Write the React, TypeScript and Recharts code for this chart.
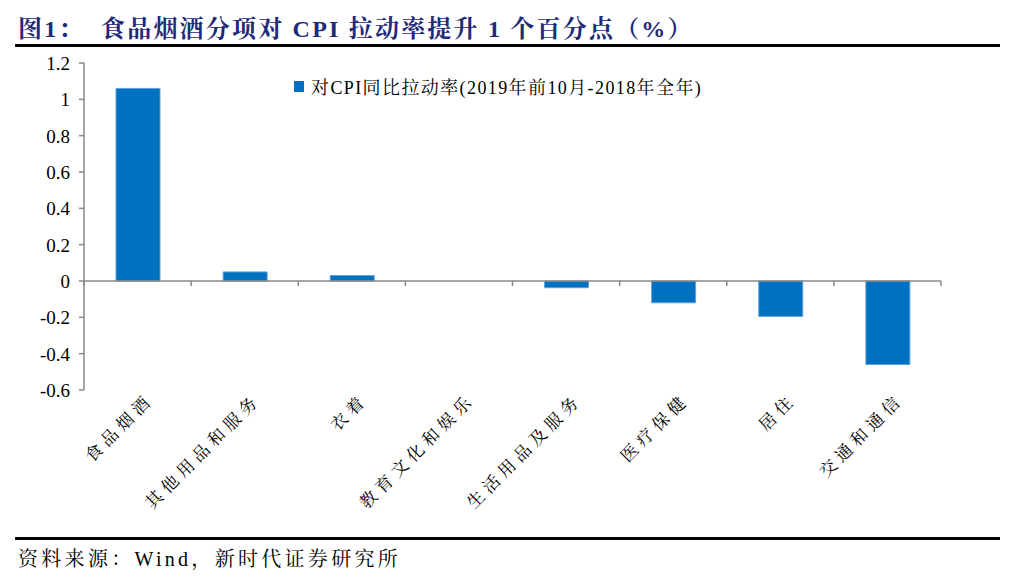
import React from 'react';
import { BarChart, Bar, XAxis, YAxis, ReferenceLine } from 'recharts';

const categories = ['食品烟酒', '其他用品和服务', '衣着', '教育文化和娱乐', '生活用品及服务', '医疗保健', '居住', '交通和通信'];
const pullRate = [1.06, 0.05, 0.03, 0.0, -0.037, -0.12, -0.195, -0.46];
const yTicks = [-0.6, -0.4, -0.2, 0, 0.2, 0.4, 0.6, 0.8, 1, 1.2];

const SERIES_NAME = '对CPI同比拉动率(2019年前10月-2018年全年)';
const FONT = '"Liberation Serif", "Times New Roman", "Noto Serif CJK SC", "Noto Sans CJK SC", serif';
const AXIS = '#898989';
const BLUE = '#0070C0';

const data = categories.map((name, i) => ({ name, value: pullRate[i] }));

function XTick({ x, y, payload }: any) {
  return (
    <g transform={`translate(${x + 14},${y})`}>
      <text transform="rotate(-45)" textAnchor="end" dy={4} fontSize={17} fill="#000" style={{ fontFamily: FONT }} letterSpacing={5}>
        {payload.value}
      </text>
    </g>
  );
}

function YTick({ x, y, payload }: any) {
  return (
    <text x={x} y={y} dy={7} textAnchor="end" fontSize={19} fill="#000" style={{ fontFamily: FONT }}>
      {String(Math.round(payload.value * 10) / 10)}
    </text>
  );
}

// zero line with category boundary ticks
function ZeroLine(props: any) {
  const { x1, x2, y1 } = props;
  const n = categories.length;
  const step = (x2 - x1) / n;
  const marks = [];
  for (let i = 0; i <= n; i++) {
    const tx = x1 + step * i;
    marks.push(<line key={i} x1={tx} x2={tx} y1={y1} y2={y1 + 5} stroke={AXIS} strokeWidth={1.5} />);
  }
  return (
    <g>
      <line x1={x1} x2={x2} y1={y1} y2={y1} stroke={AXIS} strokeWidth={1.5} />
      {marks}
    </g>
  );
}

export default function App() {
  return (
    <div style={{ position: 'absolute', left: 0, top: 0, width: 1013, height: 584, background: '#fff', fontFamily: FONT }}>
      <div
        style={{
          position: 'absolute', left: 18, top: 9, whiteSpace: 'pre', fontSize: 24, fontWeight: 'bold',
          color: '#1F2A78', letterSpacing: 2.2,
        }}
      >
        {'图1：  食品烟酒分项对 CPI 拉动率提升 1 个百分点（%）'}
      </div>
      <div style={{ position: 'absolute', left: 15, top: 44, width: 985, height: 3, background: '#000' }} />

      <div style={{ position: 'absolute', left: 0, top: 0 }}>
        <BarChart width={1013} height={584} data={data} margin={{ top: 63, right: 72, bottom: 60, left: 14 }}>
          <XAxis dataKey="name" axisLine={false} tickLine={false} tick={<XTick />} interval={0} height={134} />
          <YAxis
            domain={[-0.6, 1.2]}
            ticks={yTicks}
            width={70}
            stroke={AXIS}
            strokeWidth={1.5}
            tickSize={5}
            tickMargin={9}
            tick={<YTick />}
            interval={0}
          />
          <ReferenceLine y={0} shape={(p: any) => <ZeroLine {...p} />} />
          <Bar dataKey="value" name={SERIES_NAME} fill={BLUE} stroke="#5DA2D8" strokeWidth={1} barSize={44} isAnimationActive={false} />
        </BarChart>
      </div>

      <div style={{ position: 'absolute', left: 294, top: 73, display: 'flex', alignItems: 'center', fontSize: 18, color: '#000', whiteSpace: 'pre' }}>
        <span style={{ width: 10, height: 11, background: BLUE, display: 'inline-block', marginRight: 7 }} />
        <span style={{ letterSpacing: 1.4 }}>{SERIES_NAME}</span>
      </div>

      <div style={{ position: 'absolute', left: 15, top: 537, width: 985, height: 3, background: '#000' }} />
      <div style={{ position: 'absolute', left: 18, top: 543, fontSize: 20, letterSpacing: 3.3, color: '#000', whiteSpace: 'pre' }}>
        {'资料来源：Wind，新时代证券研究所'}
      </div>
    </div>
  );
}
